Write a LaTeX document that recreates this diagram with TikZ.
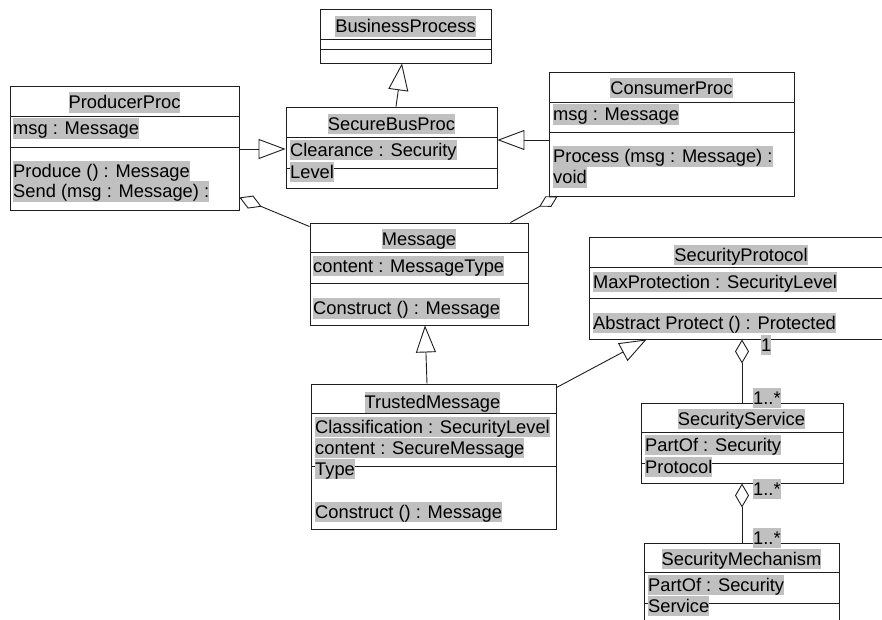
\documentclass[tikz,border=0pt]{standalone}
\usepackage{fontspec}
\setmainfont{Liberation Sans}
\usetikzlibrary{arrows.meta}
\definecolor{hl}{RGB}{192,192,192}
\definecolor{ln}{RGB}{30,30,30}
\begin{document}
\begin{tikzpicture}[x=1pt,y=-1pt,
  cls/.style={draw=ln, line width=0.9pt, fill=white, inner sep=0pt},
  txt/.style={fill=hl, inner sep=0pt, text height=16.5pt, text depth=3.9pt, font=\fontsize{18.3}{21}\selectfont},
  lt/.style={txt, anchor=west},
  div/.style={draw=ln, line width=0.9pt},
  gen/.style={draw=ln, line width=0.9pt, -{Triangle[open, length=27pt, width=20pt]}},
  agg/.style={draw=ln, line width=0.9pt, {Diamond[open, length=24pt, width=14pt]}-},
  aggs/.style={draw=ln, line width=0.9pt, {Diamond[open, length=21pt, width=12pt]}-}]
\clip (0,0) rectangle (882,619);
\fill[white] (0,0) rectangle (882,619);

% class boxes
\node[cls, minimum width=171pt, minimum height=54pt]  (bp)  at (405.5,36) {};
\node[cls, minimum width=211pt, minimum height=81pt]  (sbp) at (391.5,147.5) {};
\node[cls, minimum width=229pt, minimum height=124pt] (pp)  at (124.5,148) {};
\node[cls, minimum width=245pt, minimum height=124pt] (cp)  at (671.5,134) {};
\node[cls, minimum width=218pt, minimum height=102pt] (msg) at (419,274) {};
\node[cls, minimum width=245pt, minimum height=145pt] (tm)  at (433.5,456.5) {};
\node[cls, minimum width=311pt, minimum height=102pt] (sp)  at (744.5,288) {};
\node[cls, minimum width=202pt, minimum height=80pt]  (ss)  at (742,443) {};
\node[cls, minimum width=195pt, minimum height=97pt]  (sm)  at (741.5,591.5) {};

% compartment dividers
\draw[div] (320,39) -- (491,39);  \draw[div] (320,49) -- (491,49);
\draw[div] (286,137) -- (497,137); \draw[div] (286,168) -- (497,168);
\draw[div] (10,116) -- (239,116);  \draw[div] (10,147) -- (239,147);
\draw[div] (549,102) -- (794,102); \draw[div] (549,132) -- (794,132);
\draw[div] (310,252) -- (528,252); \draw[div] (310,283) -- (528,283);
\draw[div] (311,413) -- (556,413); \draw[div] (311,466) -- (556,466);
\draw[div] (589,267) -- (900,267); \draw[div] (589,298) -- (900,298);
\draw[div] (641,432) -- (843,432); \draw[div] (641,463) -- (843,463);
\draw[div] (644,572) -- (839,572); \draw[div] (644,603) -- (839,603);

% connectors
\draw[gen] ([xshift=4.5pt]sbp.north) -- ([xshift=-3.5pt]bp.south);
\draw[gen] ([yshift=-1pt]pp.east) -- ([yshift=-1pt]sbp.west |- pp.east);
\draw[gen] ([yshift=-6pt]cp.west) -- ([yshift=-6pt]sbp.east |- cp.west);
\draw[agg] ([yshift=13pt]pp.south east) -- ([yshift=-4pt]msg.north west);
\draw[aggs] ([xshift=9pt]cp.south west) -- ([xshift=-18pt]msg.north east);
\draw[gen] ([xshift=-6.5pt]tm.north) -- ([xshift=6pt]msg.south);
\draw[gen] ([yshift=-4pt]tm.north east) -- ([xshift=58pt]sp.south west);
\draw[agg] (ss.north |- sp.south) -- (ss.north);
\draw[agg] (ss.south) -- (ss.south |- sm.north);

% texts
\node[txt] (t1) at (405.5,26.5) {BusinessProcess};

\node[txt] (t2) at (391.5,124) {SecureBusProc};
\node[lt]  (t3) at (290,150) {Clearance : Security};
\node[lt]  (t4) at (290,172) {Level};

\node[txt] (t5) at (124.5,102.5) {ProducerProc};
\node[lt]  (t6) at (13,128.5) {msg : Message};
\node[lt]  (t7) at (13,171) {Produce () : Message};
\node[lt]  (t8) at (13,191.5) {Send (msg : Message) :};

\node[txt] (t9)  at (671.5,88) {ConsumerProc};
\node[lt]  (t10) at (553,114.5) {msg : Message};
\node[lt]  (t11) at (553,156.5) {Process (msg : Message) :};
\node[lt]  (t12) at (553,177.5) {void};

\node[txt] (t13) at (419,239) {Message};
\node[lt]  (t14) at (313,266) {content : MessageType};
\node[lt]  (t15) at (313,308.5) {Construct () : Message};

\node[txt] (t16) at (432.5,402.5) {TrustedMessage};
\node[lt]  (t17) at (315,427) {Classification : SecurityLevel};
\node[lt]  (t18) at (315,448) {content : SecureMessage};
\node[lt]  (t19) at (315,469) {Type};
\node[lt]  (t20) at (315,512) {Construct () : Message};

\node[txt] (t21) at (741,255) {SecurityProtocol};
\node[lt]  (t22) at (593,282) {MaxProtection : SecurityLevel};
\node[lt]  (t23) at (593,323) {Abstract Protect () : Protected};

\node[txt] (t24) at (741.5,419) {SecurityService};
\node[lt]  (t25) at (645,445) {PartOf : Security};
\node[lt]  (t26) at (645,467) {Protocol};

\node[txt] (t27) at (741.5,559) {SecurityMechanism};
\node[lt]  (t28) at (648,585) {PartOf : Security};
\node[lt]  (t29) at (648,606) {Service};

% multiplicities
\node[lt] (m1) at (761,345) {1};
\node[lt] (m2) at (753,398) {1..*};
\node[lt] (m3) at (753,489) {1..*};
\node[lt] (m4) at (753,538) {1..*};
\end{tikzpicture}
\end{document}
